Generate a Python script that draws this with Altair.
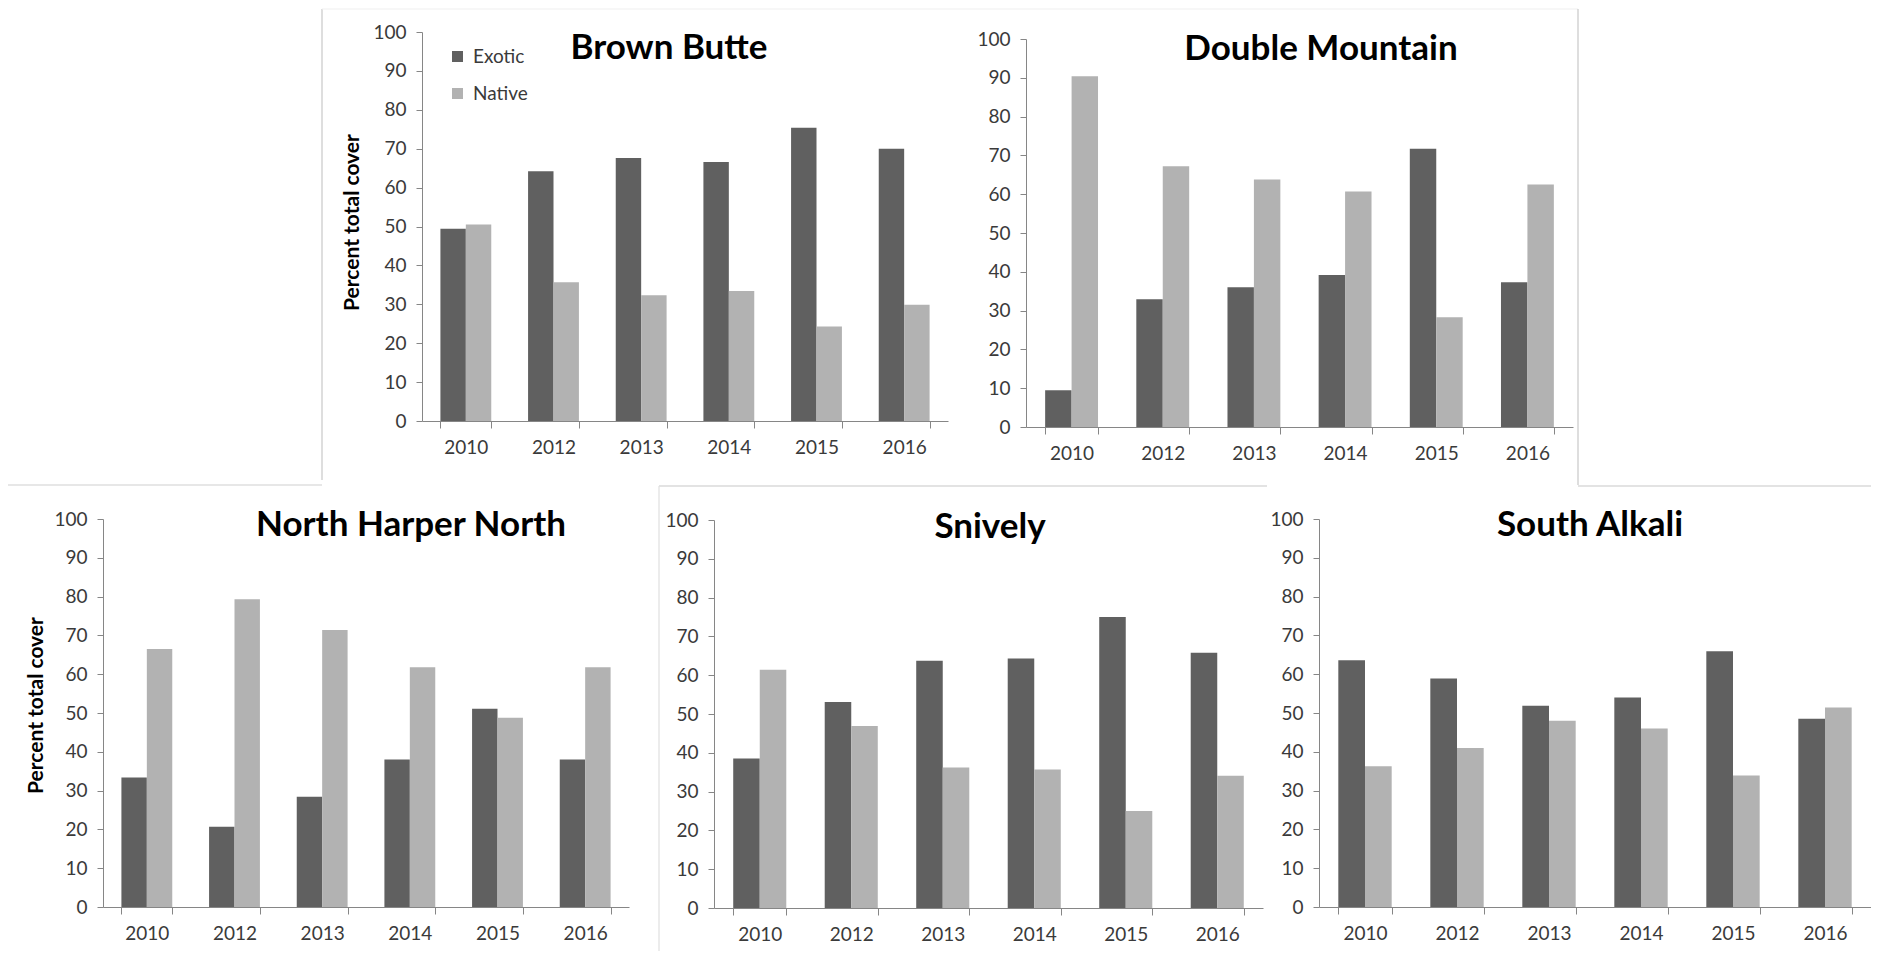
import altair as alt
import pandas as pd

# ---------------- data ----------------
YEARS = ["2010", "2012", "2013", "2014", "2015", "2016"]
SERIES = ["Exotic", "Native"]
SITES = ["Brown Butte", "Double Mountain", "North Harper North", "Snively", "South Alkali"]

BB_EXOTIC = [49.4, 64.2, 67.6, 66.6, 75.4, 70.0]
BB_NATIVE = [50.5, 35.7, 32.3, 33.4, 24.3, 29.9]
DM_EXOTIC = [9.5, 32.9, 36.0, 39.2, 71.7, 37.3]
DM_NATIVE = [90.4, 67.2, 63.8, 60.7, 28.3, 62.5]
NHN_EXOTIC = [33.4, 20.7, 28.4, 38.0, 51.1, 38.0]
NHN_NATIVE = [66.5, 79.3, 71.4, 61.8, 48.8, 61.8]
SN_EXOTIC = [38.5, 53.1, 63.7, 64.3, 75.0, 65.8]
SN_NATIVE = [61.4, 46.9, 36.2, 35.7, 25.0, 34.1]
SA_EXOTIC = [63.6, 58.9, 51.9, 54.0, 65.9, 48.5]
SA_NATIVE = [36.3, 41.0, 48.0, 46.0, 33.9, 51.4]

Y_TICKS = list(range(0, 101, 10))
Y_TITLE = "Percent total cover"

# ---------------- layout / style ----------------
W, H = 1863, 943
FONT = "Lato"
C_EXOTIC, C_NATIVE = "#606060", "#b2b2b2"
AXIS_GRAY = "#868686"
LABEL_COLOR = "#3a3a3a"

# per panel: x range, y range (bottom, top), title position, y-title position
LAYOUT = [
    dict(xr=[414, 940], yr=[413, 24], tx=661, ty=40, ytitle=(-70, 214)),
    dict(xr=[1018, 1565], yr=[419, 31], tx=1313, ty=41, ytitle=None),
    dict(xr=[95, 621], yr=[899, 511], tx=403, ty=517, ytitle=(-67, 697)),
    dict(xr=[706, 1255], yr=[900, 512], tx=982, ty=519, ytitle=None),
    dict(xr=[1311, 1863], yr=[899, 511], tx=1582, ty=517, ytitle=None),
]

# document frame lines (x1, y1, x2, y2, colour)
FRAMES = [
    (314, 1, 314, 472, "#c8c8c8"),
    (0, 477, 314, 477, "#d0d0d0"),
    (314, 1, 1570, 1, "#f0f0f0"),
    (1570, 1, 1570, 477, "#c8c8c8"),
    (1570, 478, 1863, 478, "#c8c8c8"),
    (651, 478, 1259, 478, "#c8c8c8"),
    (651, 478, 651, 943, "#e0e0e0"),
]

VALUES = [
    (BB_EXOTIC, BB_NATIVE),
    (DM_EXOTIC, DM_NATIVE),
    (NHN_EXOTIC, NHN_NATIVE),
    (SN_EXOTIC, SN_NATIVE),
    (SA_EXOTIC, SA_NATIVE),
]

layers = []
for site, (exo, nat), lay in zip(SITES, VALUES, LAYOUT):
    df = pd.DataFrame({
        "Year": YEARS * 2,
        "Group": [SERIES[0]] * len(YEARS) + [SERIES[1]] * len(YEARS),
        "Cover": exo + nat,
    })
    xr, yr = lay["xr"], lay["yr"]
    yaxis_kwargs = dict(
        orient="left", offset=-xr[0], values=Y_TICKS, grid=False,
        domainColor=AXIS_GRAY, tickColor=AXIS_GRAY, tickSize=6,
        labelFont=FONT, labelFontSize=19, labelColor=LABEL_COLOR, labelPadding=10,
    )
    if lay["ytitle"] is not None:
        yaxis_kwargs.update(
            title=Y_TITLE, titleFont=FONT, titleFontSize=21, titleFontWeight="bold",
            titleColor="#000000", titleX=lay["ytitle"][0], titleY=lay["ytitle"][1],
            titleBaseline="middle", titleAlign="center", titleAngle=270,
        )
    else:
        yaxis_kwargs.update(title=None)

    bars = alt.Chart(df).mark_bar().encode(
        x=alt.X(
            "Year:N", sort=YEARS,
            scale=alt.Scale(range=xr, paddingInner=0.42, paddingOuter=0.21),
            axis=alt.Axis(
                orient="bottom", offset=-(H - yr[0]), title=None, labelAngle=0,
                tickBand="extent", domainColor=AXIS_GRAY, tickColor=AXIS_GRAY, tickSize=7,
                labelFont=FONT, labelFontSize=19, labelColor=LABEL_COLOR, labelPadding=10,
            ),
        ),
        xOffset=alt.XOffset("Group:N", sort=SERIES),
        y=alt.Y(
            "Cover:Q",
            scale=alt.Scale(domain=[0, 100], range=yr, nice=False, zero=True),
            axis=alt.Axis(**yaxis_kwargs),
        ),
        color=alt.Color(
            "Group:N",
            scale=alt.Scale(domain=SERIES, range=[C_EXOTIC, C_NATIVE]),
            legend=alt.Legend(title=None),
        ),
    )
    layers.append(bars)

    title = alt.Chart(pd.DataFrame({"t": [site]})).mark_text(
        font=FONT, fontWeight="bold", fontSize=35, color="#000000",
        align="center", baseline="middle",
    ).encode(text="t:N", x=alt.value(lay["tx"]), y=alt.value(lay["ty"]))
    layers.append(title)

for x1, y1, x2, y2, col in FRAMES:
    rule = alt.Chart(pd.DataFrame({"k": [0]})).mark_rule(color=col, strokeWidth=1.2).encode(
        x=alt.value(x1), x2=alt.value(x2), y=alt.value(y1), y2=alt.value(y2)
    )
    layers.append(rule)

chart = (
    alt.layer(*layers)
    .resolve_scale(x="independent", y="independent", xOffset="independent")
    .resolve_axis(x="independent", y="independent")
    .properties(width=W, height=H, autosize=alt.AutoSizeParams(type="none"), padding=0,
                background="white")
    .configure_view(strokeWidth=0)
    .configure_legend(
        orient="none", legendX=440, legendY=39, padding=0,
        symbolType="square", symbolSize=121, symbolStrokeWidth=0,
        labelFont=FONT, labelFontSize=19, labelColor=LABEL_COLOR,
        labelOffset=6, rowPadding=17,
    )
)

chart.save("out.html", embed_options={"renderer": "svg", "actions": False})
